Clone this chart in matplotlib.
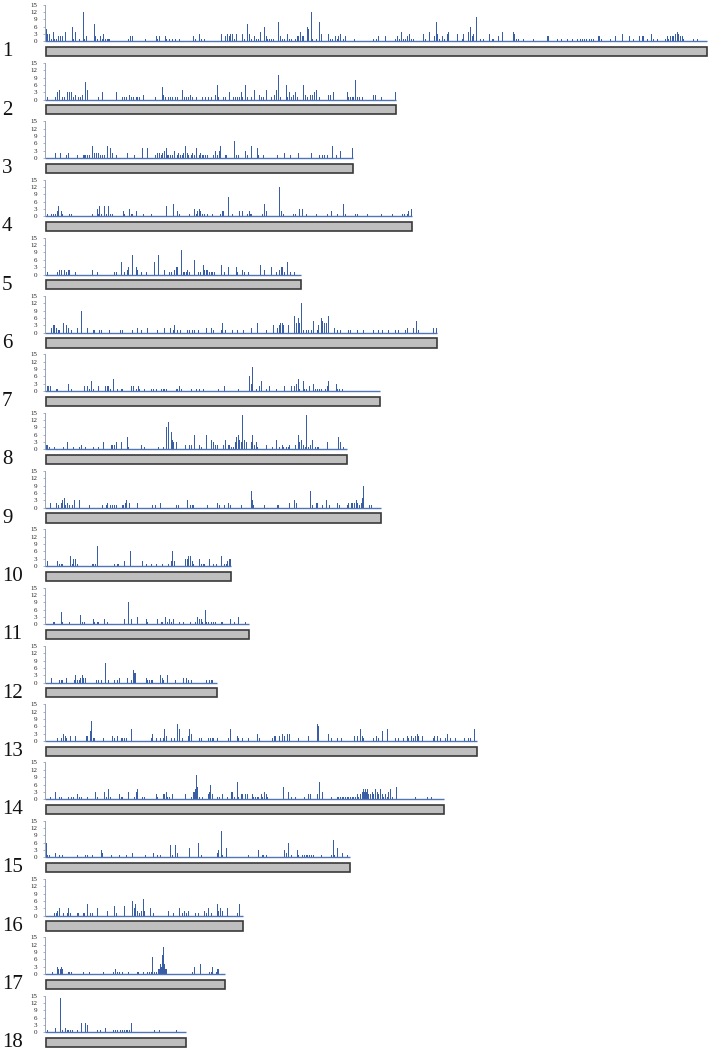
import matplotlib
matplotlib.use('Agg')
import matplotlib.pyplot as plt
from matplotlib.patches import Rectangle

# ---------------- data: (bin index of 100 kb, marker count) ----------------
chr01 = [(1,5),(2,3),(4,3),(6,1),(8,4),(9,1),(11,1),(13,2),(15,2),(17,2),(20,4),(27,6),(28,1),(30,4),(34,1),
         (38,12),(39,1),(41,2),(49,7),(50,2),(52,1),(55,2),(57,1),(58,3),(60,1),(62,1),(63,1),(64,1),(83,1),(85,2),
         (87,2),(100,1),(111,2),(112,1),(114,2),(120,2),(121,1),(124,1),(127,1),(130,1),(134,1),(148,2),(150,1),
         (154,3),(156,1),(159,1),(176,3),(180,2),(182,3),(184,2),(185,3),(187,3),(189,1),(191,3),(197,3),(199,1),
         (202,7),(204,3),(206,1),(209,2),(211,1),(213,1),(215,4),(219,6),(221,2),(222,1),(224,1),(226,1),(228,1),
         (233,8),(235,2),(237,1),(239,1),(242,3),(244,1),(246,1),(250,1),(252,2),(253,2),(255,4),(257,2),(258,2),
         (262,6),(263,5),(266,12),(267,1),(271,1),(274,8),(276,3),(283,3),(285,1),(287,1),(290,2),(292,1),(293,2),
         (295,3),(298,1),(300,2),(309,1),(328,1),(331,1),(333,2),(340,2),(350,1),(352,2),(354,1),(356,4),(358,1),
         (360,1),(362,2),(364,3),(366,1),(368,1),(378,3),(380,1),(384,4),(389,2),(391,8),(392,3),(394,1),(397,2),
         (399,1),(402,3),(403,4),(412,3),(417,1),(418,3),(423,4),(425,6),(427,2),(428,3),(431,10),(435,1),(438,1),
         (444,3),(447,1),(448,1),(453,2),(457,4),(468,4),(469,3),(471,1),(473,1),(478,1),(488,1),(502,2),(503,2),
         (512,1),(516,1),(522,1),(527,1),(532,1),(535,1),(537,1),(539,1),(541,1),(544,1),(546,1),(548,1),(553,2),
         (554,2),(556,1),(565,1),(570,2),(577,3),(584,2),(588,1),(594,2),(597,2),(598,2),(602,1),(606,3),(608,1),
         (612,1),(620,1),(622,2),(623,1),(625,2),(627,2),(628,2),(630,3),(632,4),(633,3),(635,2),(637,2),(638,1),
         (648,1),(652,1)]
chr02 = [(2,1),(10,1),(12,3),(14,4),(17,1),(19,1),(22,3),(24,3),(26,3),(28,1),(30,2),(33,1),(35,1),(37,2),(40,7),
         (42,4),(53,1),(57,3),(71,3),(77,1),(79,1),(81,1),(84,2),(86,1),(88,1),(91,1),(92,1),(94,1),(98,2),(110,1),
         (117,5),(118,2),(120,1),(123,1),(125,1),(127,1),(130,1),(132,1),(137,4),(139,1),(141,1),(143,1),(145,2),
         (147,1),(151,1),(157,1),(160,1),(163,1),(166,1),(170,2),(172,6),(173,1),(178,1),(180,1),(184,3),(188,1),
         (190,1),(192,1),(194,1),(196,3),(197,1),(200,6),(202,1),(206,1),(209,4),(214,2),(216,1),(218,1),(221,4),
         (226,1),(229,2),(231,4),(233,10),(235,1),(241,6),(242,1),(244,3),(246,1),(248,2),(250,3),(252,1),(258,6),
         (260,2),(262,1),(265,2),(267,2),(269,3),(271,4),(274,1),(283,2),(285,2),(288,3),(302,3),(303,1),(305,1),
         (307,1),(308,1),(310,8),(312,1),(314,1),(317,1),(328,2),(330,2),(336,1),(350,3)]
chr03 = [(10,2),(15,2),(21,1),(23,2),(32,1),(38,1),(39,1),(40,1),(42,1),(44,1),(47,5),(49,2),(51,2),(53,2),(55,1),
         (57,1),(59,1),(62,5),(65,4),(67,2),(71,1),(82,2),(89,1),(97,4),(102,4),(110,1),(112,2),(114,2),(116,1),
         (117,2),(119,3),(121,4),(122,1),(123,1),(125,1),(127,1),(129,3),(132,1),(133,2),(135,1),(137,1),(138,2),
         (140,5),(142,2),(143,1),(146,1),(147,2),(149,1),(151,4),(154,1),(155,2),(157,1),(158,1),(160,1),(162,1),
         (168,1),(170,3),(172,1),(174,3),(175,5),(180,1),(181,1),(189,7),(191,1),(193,1),(200,3),(202,1),(206,5),
         (212,4),(213,1),(218,1),(232,1),(239,2),(245,1),(253,2),(266,2),(274,1),(277,1),(279,1),(282,1),(287,5),
         (291,1),(295,3),(307,4)]
chr04 = [(2,1),(6,1),(8,1),(10,1),(12,2),(13,4),(16,2),(17,1),(24,1),(26,1),(47,1),(52,3),(53,1),(54,4),(56,1),
         (59,4),(61,1),(63,4),(65,1),(67,1),(78,2),(79,1),(84,3),(86,1),(87,1),(91,2),(98,1),(106,1),(121,4),
         (128,5),(132,2),(134,1),(144,1),(149,3),(151,1),(152,2),(154,3),(155,2),(157,1),(159,1),(162,1),(167,1),
         (175,1),(177,2),(178,2),(183,8),(187,1),(194,2),(197,2),(202,1),(204,2),(205,1),(206,1),(217,1),(219,5),
         (221,2),(234,12),(236,2),(238,1),(248,1),(250,1),(254,3),(257,3),(261,1),(271,1),(282,1),(286,2),(292,1),
         (298,5),(300,1),(310,1),(312,1),(322,1),(336,1),(347,1),(357,1),(359,1),(362,1),(363,2),(366,3)]
chr05 = [(2,1),(12,1),(14,2),(16,2),(19,2),(21,1),(23,2),(24,2),(30,1),(47,2),(52,1),(69,1),(71,1),(76,5),(79,1),
         (82,2),(83,3),(87,8),(91,3),(92,2),(96,1),(101,1),(109,5),(113,8),(119,2),(124,1),(126,1),(129,2),(131,3),
         (132,3),(136,10),(138,1),(139,1),(141,1),(142,2),(144,1),(149,6),(153,1),(155,1),(158,4),(159,2),(161,2),
         (162,2),(164,1),(166,1),(167,1),(169,1),(176,4),(179,1),(183,3),(191,3),(192,1),(197,2),(199,1),(203,1),
         (215,4),(219,2),(226,3),(231,1),(234,2),(236,3),(237,3),(239,1),(242,5),(245,1),(249,1)]
chr06 = [(6,2),(8,3),(9,3),(11,2),(13,1),(14,1),(18,4),(21,3),(23,2),(26,1),(32,2),(36,9),(42,2),(48,1),(49,1),
         (54,1),(56,1),(64,1),(75,1),(77,1),(87,1),(92,2),(96,1),(102,2),(112,1),(119,2),(125,2),(128,1),(129,3),
         (132,1),(135,1),(142,1),(144,1),(147,1),(149,1),(153,1),(161,2),(166,2),(168,1),(176,1),(177,4),(180,1),
         (187,1),(192,1),(198,1),(206,2),(212,4),(221,1),(228,3),(232,2),(234,3),(235,4),(237,4),(238,3),(243,3),
         (249,7),(251,4),(253,6),(254,4),(256,12),(258,1),(261,1),(263,1),(266,1),(268,5),(272,1),(273,3),(276,6),
         (277,5),(279,4),(281,4),(283,7),(289,2),(292,1),(295,1),(303,1),(305,1),(312,1),(318,1),(328,1),(333,1),
         (337,1),(343,1),(350,1),(353,1),(360,1),(362,2),(368,2),(371,5),(373,1),(388,2),(391,2)]
chr07 = [(2,2),(3,2),(5,2),(11,1),(12,1),(23,3),(26,1),(39,2),(42,2),(44,1),(46,4),(48,1),(53,2),(60,2),(62,2),
         (63,2),(65,1),(68,5),(72,1),(76,1),(77,1),(86,2),(88,2),(91,1),(93,2),(94,1),(99,1),(106,1),(108,1),
         (111,1),(116,1),(118,1),(119,1),(121,1),(131,1),(132,1),(134,2),(136,1),(146,1),(151,1),(154,1),(158,1),
         (173,1),(179,2),(193,1),(204,6),(206,3),(207,10),(211,1),(214,2),(216,4),(221,1),(224,2),(231,1),(239,2),
         (246,2),(249,2),(251,3),(253,5),(254,1),(258,4),(259,1),(261,1),(264,2),(268,3),(270,1),(272,1),(274,1),
         (276,1),(280,1),(282,2),(283,4),(291,3),(292,1),(294,1),(297,1)]
chr08 = [(1,2),(2,2),(4,1),(9,1),(18,1),(22,3),(28,1),(34,1),(36,2),(40,1),(48,1),(53,1),(58,3),(66,2),(67,2),
         (69,2),(71,3),(76,3),(82,5),(83,1),(96,2),(99,1),(113,1),(118,1),(121,9),(123,11),(126,7),(127,4),(128,3),
         (131,3),(140,2),(144,2),(146,2),(149,6),(154,2),(156,1),(161,6),(166,4),(168,3),(170,2),(172,2),(178,2),
         (180,4),(183,2),(184,2),(186,1),(188,1),(190,3),(191,5),(193,6),(194,4),(196,3),(197,14),(199,4),(201,3),
         (206,3),(207,6),(209,2),(211,3),(212,1),(221,2),(227,1),(231,4),(234,1),(237,2),(238,1),(241,1),(243,1),
         (244,2),(250,2),(253,6),(254,3),(256,4),(258,2),(260,1),(261,14),(263,1),(265,2),(267,4),(270,1),(272,1),
         (273,1),(282,3),(293,5),(295,3),(298,1)]
chr09 = [(5,2),(11,2),(13,1),(16,2),(17,3),(19,4),(20,1),(22,2),(24,1),(27,1),(29,3),(34,3),(44,1),(57,1),(61,1),
         (62,2),(65,1),(67,1),(69,1),(71,1),(77,1),(78,1),(80,2),(81,3),(84,2),(92,2),(107,1),(110,1),(115,2),
         (131,1),(133,1),(142,3),(145,1),(147,1),(148,1),(162,1),(172,2),(174,1),(179,1),(183,2),(185,1),(196,1),
         (206,7),(207,3),(208,1),(219,1),(232,1),(233,1),(244,2),(249,3),(251,2),(265,7),(267,1),(271,2),(272,2),
         (277,1),(281,3),(284,1),(292,2),(294,1),(302,1),(303,2),(306,2),(307,2),(309,2),(311,3),(312,2),(314,1),
         (316,2),(317,4),(318,9),(324,1),(326,1)]
chr10 = [(2,2),(12,2),(14,1),(16,1),(17,1),(25,4),(27,1),(28,3),(30,3),(32,1),(47,1),(48,1),(50,1),(52,8),(69,1),
         (72,1),(73,1),(79,2),(85,6),(97,2),(101,1),(106,1),(111,1),(117,1),(123,1),(126,2),(127,6),(129,2),
         (140,3),(142,3),(143,4),(145,4),(147,2),(148,1),(154,3),(156,1),(158,1),(159,1),(164,3),(168,1),(171,1),
         (176,4),(179,1),(181,1),(182,2),(184,3),(185,3)]
chr11 = [(8,1),(9,1),(16,5),(17,1),(24,1),(35,4),(37,1),(39,1),(48,2),(49,1),(52,1),(53,1),(59,2),(62,1),(79,2),
         (83,9),(86,2),(92,3),(101,2),(102,1),(112,2),(116,1),(117,1),(120,3),(122,1),(124,2),(126,1),(128,2),
         (134,1),(138,1),(145,1),(150,1),(152,3),(154,2),(156,2),(157,1),(160,6),(161,1),(163,1),(166,1),(168,1),
         (170,1),(176,1),(177,1),(185,2),(189,1),(193,3),(200,1)]
chr12 = [(6,2),(14,1),(16,1),(17,1),(21,2),(29,1),(30,3),(32,1),(34,1),(35,2),(37,3),(38,2),(40,2),(51,1),(53,1),
         (56,1),(60,8),(63,1),(69,1),(72,1),(74,2),(82,2),(86,1),(88,5),(89,4),(90,4),(101,2),(102,1),(104,1),
         (106,1),(107,1),(115,3),(117,2),(118,1),(122,3),(130,1),(138,2),(141,2),(143,1),(146,1),(161,1),(164,1),
         (166,1),(167,1)]
chr13 = [(12,1),(16,1),(18,3),(20,2),(21,1),(25,2),(30,2),(41,2),(42,2),(45,4),(46,8),(48,1),(49,1),(58,1),(67,2),
         (69,1),(72,2),(76,1),(77,1),(79,1),(81,1),(86,5),(106,1),(107,3),(111,1),(115,1),(118,1),(119,5),(121,2),
         (126,1),(129,1),(132,7),(134,5),(137,1),(143,2),(144,5),(146,3),(154,1),(156,1),(163,1),(165,1),(167,1),
         (168,1),(172,1),(183,1),(185,5),(192,2),(193,1),(197,1),(203,1),(212,3),(214,1),(227,1),(229,2),(230,2),
         (234,2),(237,3),(239,2),(242,3),(244,3),(253,1),(263,2),(272,7),(273,6),(283,3),(286,1),(292,1),(296,1),
         (309,2),(312,2),(315,5),(317,2),(318,1),(328,1),(331,2),(333,1),(337,4),(342,5),(350,1),(353,1),(358,1),
         (362,2),(363,1),(366,2),(368,1),(370,2),(372,3),(373,2),(377,2),(388,1),(389,2),(392,2),(395,1),(400,1),
         (402,3),(405,1),(410,1),(419,1),(423,1),(425,1),(429,5)]
chr14 = [(5,1),(10,3),(14,1),(16,1),(23,1),(26,1),(28,1),(32,2),(34,1),(36,1),(42,1),(50,3),(52,1),(59,3),(61,1),
         (63,4),(65,1),(74,2),(76,1),(77,1),(83,3),(89,1),(91,3),(92,4),(97,1),(99,1),(111,2),(112,1),(118,2),
         (119,2),(121,3),(122,1),(124,1),(127,2),(140,2),(146,1),(148,3),(149,3),(150,4),(151,10),(152,5),(154,1),
         (157,1),(163,2),(164,3),(165,6),(167,2),(172,1),(174,1),(177,2),(182,1),(186,3),(187,3),(189,1),(192,7),
         (193,1),(196,2),(197,2),(200,2),(202,2),(207,2),(208,1),(210,1),(212,1),(213,1),(216,2),(217,1),(219,3),
         (221,2),(222,1),(238,5),(243,3),(246,1),(250,1),(259,1),(263,2),(265,2),(272,2),(274,7),(277,3),(286,1),
         (292,1),(293,1),(295,1),(297,1),(298,1),(300,1),(302,1),(303,1),(305,1),(307,1),(308,1),(310,1),(312,2),
         (313,1),(315,2),(317,3),(318,4),(319,3),(320,4),(321,3),(322,4),(323,2),(325,2),(327,3),(328,2),(330,4),
         (332,3),(333,2),(335,4),(337,2),(338,1),(340,2),(342,1),(343,3),(345,4),(347,1),(351,5),(370,1),(382,1),
         (386,1)]
chr15 = [(1,6),(2,1),(4,1),(10,2),(14,1),(17,1),(32,1),(40,1),(42,1),(47,1),(56,3),(57,2),(66,1),(74,1),(81,1),
         (87,2),(100,1),(108,2),(112,1),(115,1),(125,5),(127,1),(130,5),(132,2),(144,4),(153,6),(156,1),(172,2),
         (173,3),(176,11),(177,1),(181,4),(203,1),(213,3),(217,1),(218,1),(221,1),(239,3),(241,2),(243,6),(246,1),
         (252,3),(253,1),(257,1),(259,1),(261,1),(262,1),(264,1),(266,1),(268,1),(276,1),(286,1),(288,7),(289,1),
         (292,4),(297,2),(302,1)]
chr16 = [(9,1),(11,1),(12,2),(14,3),(18,1),(22,1),(23,3),(25,1),(32,1),(33,1),(38,1),(39,1),(42,5),(45,1),(47,1),
         (52,3),(62,2),(69,4),(71,1),(79,4),(87,6),(89,3),(90,5),(92,2),(94,1),(96,2),(98,7),(99,2),(105,3),
         (108,1),(123,2),(128,1),(134,3),(137,1),(139,2),(141,1),(143,2),(150,1),(153,1),(159,2),(161,1),(163,3),
         (166,1),(172,5),(173,2),(175,3),(177,2),(182,3),(192,1),(194,5)]
chr17 = [(7,1),(12,3),(13,2),(15,2),(16,3),(17,2),(23,1),(24,1),(26,1),(38,1),(44,1),(58,1),(68,1),(70,2),(72,1),
         (74,1),(77,1),(83,1),(92,1),(93,1),(98,1),(102,1),(104,1),(106,1),(107,7),(109,1),(111,1),(113,2),(114,2),
         (115,4),(116,3),(117,8),(118,11),(119,4),(120,2),(121,2),(147,1),(149,3),(155,4),(164,1),(166,1),(167,3),
         (171,1),(172,2),(173,2)]
chr18 = [(2,1),(10,2),(15,14),(17,1),(20,2),(22,1),(23,1),(25,1),(27,1),(32,1),(36,4),(40,4),(42,3),(52,1),(55,1),
         (60,2),(68,1),(70,1),(72,1),(75,1),(77,1),(79,1),(81,1),(82,1),(84,1),(86,4),(109,1),(114,1),(131,1)]

chromosomes = [chr01, chr02, chr03, chr04, chr05, chr06, chr07, chr08, chr09,
               chr10, chr11, chr12, chr13, chr14, chr15, chr16, chr17, chr18]
chrom_labels = [str(i) for i in range(1, 19)]
chrom_len_bins = [662, 351, 308, 367, 256, 392, 335, 302, 336, 186, 204, 172, 432, 399, 305, 198, 180, 141]
ytick_vals = [0, 3, 6, 9, 12, 15]
BIN_MB = 0.1

# ---------------- layout ----------------
W, H = 709, 1056
fig = plt.figure(figsize=(W / 100, H / 100), dpi=100)
fig.patch.set_facecolor('white')

SERIF = ['Liberation Serif', 'DejaVu Serif']
BAR_C = '#3a5ea6'
BASE_C = '#4f74b8'
AX_L = 45
AX_W = 662
XMAX = max(chrom_len_bins) * BIN_MB

for i, (lab, nbin, data) in enumerate(zip(chrom_labels, chrom_len_bins, chromosomes)):
    yb = 41.3 + 58.3 * i
    ax = fig.add_axes([AX_L / W, 1 - yb / H, AX_W / W, 36.7 / H])
    xs = [b * BIN_MB for b, c in data]
    hs = [c for b, c in data]
    ax.bar(xs, hs, width=0.11, align='edge', color=BAR_C, linewidth=0, antialiased=False)
    ax.plot([0, nbin * BIN_MB], [0, 0], color=BASE_C, lw=1.0, clip_on=False, solid_capstyle='butt')
    ax.set_xlim(0, XMAX)
    ax.set_ylim(0, 15)
    for s in ['top', 'right', 'bottom']:
        ax.spines[s].set_visible(False)
    ax.spines['left'].set_color('#8795ad')
    ax.spines['left'].set_linewidth(0.6)
    ax.set_xticks([])
    ax.set_yticks(ytick_vals)
    ax.set_yticklabels([str(v) for v in ytick_vals], fontsize=5, family=SERIF, color='#222222')
    ax.tick_params(axis='y', length=1.5, width=0.5, pad=4, colors='#8795ad', labelcolor='#222222')
    ax.patch.set_alpha(0)

    axc = fig.add_axes([AX_L / W, 1 - (yb + 15.5) / H, AX_W / W, 10.5 / H])
    axc.set_xlim(0, XMAX)
    axc.set_ylim(0, 1)
    axc.axis('off')
    axc.add_patch(Rectangle((0.1, 0.06), nbin * BIN_MB - 0.15, 0.88, facecolor='#bfbfbf',
                            edgecolor='#3a3a3a', linewidth=1.2, clip_on=False))

    fig.text(2 / W, 1 - (yb + 10.5) / H, lab, fontsize=15, family=SERIF, ha='left', va='center',
             color='#111111')

fig.savefig('out.png', dpi=100, facecolor='white')
